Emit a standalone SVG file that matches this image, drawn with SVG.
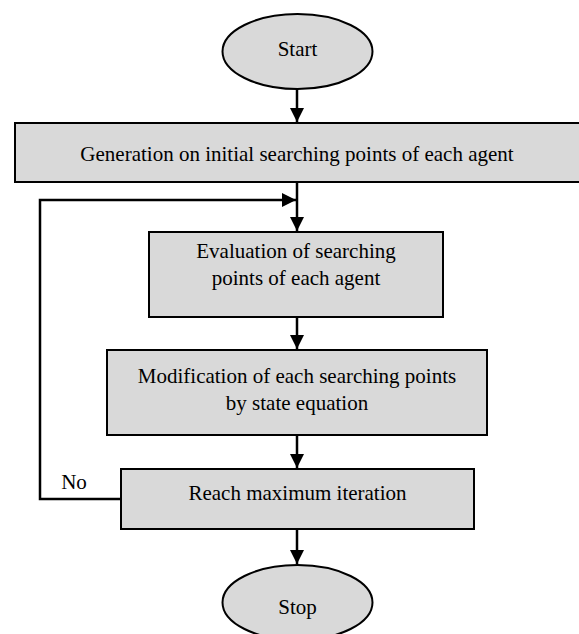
<svg xmlns="http://www.w3.org/2000/svg" width="579" height="634" viewBox="0 0 579 634">
<style>
.n{fill:#d9d9d9;stroke:#000;stroke-width:2}
.t{font-family:"Liberation Serif","Times New Roman",serif;font-size:21px;fill:#000;text-anchor:middle}
.c{fill:none;stroke:#000;stroke-width:2.5}
</style>
<defs>
<marker id="ah" markerUnits="userSpaceOnUse" markerWidth="14" markerHeight="14" refX="14" refY="7" orient="auto">
<path d="M0,0 L14,7 L0,14 Z" fill="#000"/>
</marker>
</defs>
<rect width="579" height="634" fill="#fff"/>
<g id="connectors">
<line class="c" x1="297" y1="89" x2="297" y2="122" marker-end="url(#ah)"/>
<line class="c" x1="297" y1="182" x2="297" y2="231" marker-end="url(#ah)"/>
<polyline class="c" points="121,499 40,499 40,200 296,200" marker-end="url(#ah)"/>
<line class="c" x1="297" y1="317" x2="297" y2="349" marker-end="url(#ah)"/>
<line class="c" x1="297" y1="435" x2="297" y2="468" marker-end="url(#ah)"/>
<line class="c" x1="297" y1="529" x2="297" y2="564" marker-end="url(#ah)"/>
<text class="t" x="74" y="489">No</text>
</g>
<g id="start">
<ellipse class="n" cx="297.5" cy="51.5" rx="75" ry="37.5"/>
<text class="t" x="297.5" y="56">Start</text>
</g>
<g id="generation">
<rect class="n" x="15" y="123" width="568" height="59"/>
<text class="t" x="297" y="161">Generation on initial searching points of each agent</text>
</g>
<g id="evaluation">
<rect class="n" x="149" y="232" width="294" height="85"/>
<text class="t" x="296" y="258">Evaluation of searching</text>
<text class="t" x="296" y="285">points of each agent</text>
</g>
<g id="modification">
<rect class="n" x="107" y="350" width="380" height="85"/>
<text class="t" x="297" y="383">Modification of each searching points</text>
<text class="t" x="297" y="410">by state equation</text>
</g>
<g id="reach">
<rect class="n" x="121" y="469" width="353" height="60"/>
<text class="t" x="297.5" y="500">Reach maximum iteration</text>
</g>
<g id="stop">
<ellipse class="n" cx="297.5" cy="602.5" rx="75" ry="37.5"/>
<text class="t" x="297.5" y="614">Stop</text>
</g>
</svg>
